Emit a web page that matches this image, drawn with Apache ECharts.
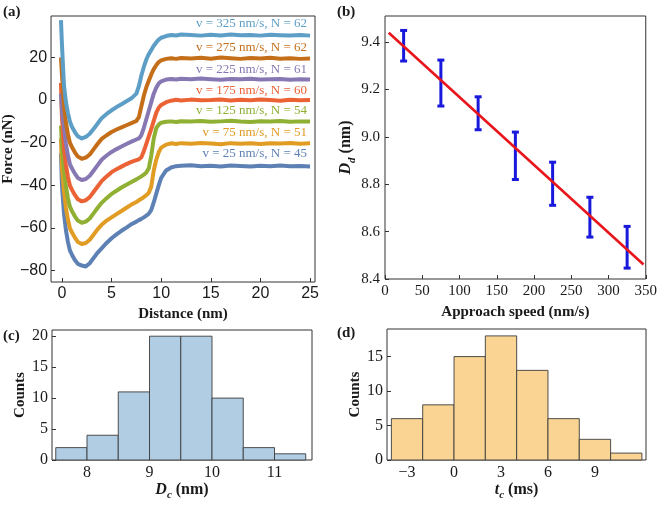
<!DOCTYPE html>
<html>
<head>
<meta charset="utf-8">
<script src="https://cdn.jsdelivr.net/npm/echarts@6/dist/echarts.min.js"></script>
<style>html,body{margin:0;padding:0;background:#fff}#c{width:660px;height:505px}</style>
</head>
<body>
<div id="c"></div>
<script>
// ---------- Panel (a): force curves ----------
const dist = [-0.1, 0, 0.2, 0.4, 0.6, 0.8, 1.0, 1.3, 1.6, 2.0, 2.4, 2.8, 3.2, 3.6, 4.0, 4.5, 5.0, 5.5, 6.0, 6.5, 7.0, 7.5, 7.75, 8.0, 8.25, 8.5, 8.75, 9.0, 9.25, 9.5, 9.75, 10.0, 10.5, 11, 11.5, 12, 13, 14, 15, 16, 17, 18, 19, 20, 21, 22, 23, 24, 25];
const force25 = [-25, -40, -53, -61, -66.5, -70.5, -72.5, -75, -76.8, -77.6, -78, -76.5, -74, -71.5, -69.5, -67, -64.8, -63, -61.3, -59.8, -58.2, -57, -56.3, -55.7, -55, -54.2, -53.3, -51.5, -48, -44, -40, -36.5, -33, -31.6, -31, -30.8, -30.6, -31, -30.8, -31.1, -30.7, -30.9, -31.2, -30.8, -31, -30.7, -31, -30.9, -31.1];
const force75 = [-18, -32, -42.5, -50.5, -56, -60, -62, -64.5, -66.5, -67.5, -67, -65.5, -63, -60.5, -58.5, -56.5, -55, -53.5, -52, -50.5, -49, -47.8, -47, -46.3, -45.5, -44.6, -43.5, -40.5, -33, -28, -24.5, -22.3, -20.9, -20.3, -20.6, -20.2, -20.5, -20.1, -20.4, -20.7, -20.2, -20.5, -20.3, -20.6, -20.2, -20.4, -20.1, -20.5, -20.3];
const force125 = [-12, -22, -32.5, -40.5, -46, -50, -52, -54.5, -56.5, -57.5, -57, -55.5, -53, -50.5, -48.2, -46, -44, -42.5, -41, -39.7, -38.4, -37.2, -36.5, -35.8, -35, -34, -32, -26, -18, -13.2, -11.5, -10.6, -10.2, -10, -10.3, -9.9, -10.1, -9.8, -10.2, -10, -9.7, -10.1, -10.3, -9.9, -10.1, -9.8, -10.2, -10, -10.1];
const force175 = [8, -8, -22.5, -30.5, -36, -40, -42, -44.5, -46.5, -47.5, -47, -45.5, -43, -40.5, -38, -35.8, -33.8, -32.4, -31.2, -30, -29, -28.2, -27.8, -26.8, -24, -20.5, -17, -13.5, -9.8, -6, -3.6, -2.3, -1, -0.3, 0.1, -0.2, 0.2, -0.1, 0, 0.3, -0.2, 0.1, -0.1, 0.2, 0, -0.3, 0.1, -0.1, 0];
const force225 = [3, -5, -12.5, -20.5, -26, -30, -32, -34.5, -36.5, -37.5, -37, -35.5, -33, -30.5, -28, -26, -24.3, -23, -21.8, -20.6, -19.5, -18.5, -18, -16.5, -13, -9, -5, -1, 3, 5.8, 7.8, 8.8, 9.6, 9.9, 9.6, 10, 9.7, 10.1, 9.8, 9.5, 9.9, 9.7, 10, 9.6, 9.8, 9.9, 9.5, 9.8, 9.6];
const force275 = [20, 12, -2.5, -10.5, -16, -20, -22, -24.5, -26.5, -27.5, -27, -25.5, -23, -20.5, -18.2, -16.5, -15, -13.8, -12.8, -11.8, -10.8, -9.8, -8, -3, 2, 6, 9, 12, 14.5, 16.3, 17.8, 18.6, 19.3, 19.6, 19.3, 19.7, 19.5, 19.8, 19.4, 19.9, 19.6, 19.3, 19.7, 19.5, 19.8, 19.4, 19.6, 19.3, 19.5];
const force325 = [37.5, 26, 7, -1, -6, -10, -12.5, -15, -17, -18, -17.3, -15.8, -13.5, -11, -8.5, -6.5, -4.8, -3.3, -2, -0.6, 0.8, 3, 6.5, 11.5, 15.5, 19, 21.5, 23.5, 25.5, 27, 28.3, 29.2, 30, 30.5, 30.3, 30.7, 30.5, 30.2, 30.6, 30.3, 30.7, 30.4, 30.5, 30.2, 30.6, 30.4, 30.3, 30.5, 30.2];
const speeds = [25, 75, 125, 175, 225, 275, 325];
const curveCounts = [45, 51, 54, 60, 61, 62, 62];
const forces = [force25, force75, force125, force175, force225, force275, force325];
const curveColors = ['#5E81B5', '#E19C24', '#8FB032', '#EB6235', '#8778B3', '#C56E1A', '#5D9EC7'];
const aXTicks = [0, 5, 10, 15, 20, 25];
const aYTicks = [-80, -60, -40, -20, 0, 20];

// ---------- Panel (b): Dd vs approach speed ----------
const ddLow  = [9.320, 9.130, 9.030, 8.820, 8.711, 8.577, 8.446];
const ddHigh = [9.449, 9.324, 9.169, 9.020, 8.893, 8.745, 8.622];
const fitX = [5, 347];
const fitY = [9.439, 8.461];
const bXTicks = [0, 50, 100, 150, 200, 250, 300, 350];
const bYTicks = [8.4, 8.6, 8.8, 9.0, 9.2, 9.4];

// ---------- Panel (c): Dc histogram ----------
const dcBinStart = [7.5, 8.0, 8.5, 9.0, 9.5, 10.0, 10.5, 11.0];
const dcBinWidth = 0.5;
const dcCounts = [2, 4, 11, 20, 20, 10, 2, 1];
const cXTicks = [8, 9, 10, 11];
const cYTicks = [0, 5, 10, 15, 20];

// ---------- Panel (d): tc histogram ----------
const tcBinStart = [-4, -2, 0, 2, 4, 6, 8, 10];
const tcBinWidth = 2;
const tcCounts = [6, 8, 15, 18, 13, 6, 3, 1];
const dXTicks = [-3, 0, 3, 6, 9];
const dYTicks = [0, 5, 10, 15];

const SERIF = '"Liberation Serif", "DejaVu Serif", serif';
const SANS = '"Liberation Sans", Arial, sans-serif';
const TXT = '#1a1a1a';
const minus = v => (v < 0 ? '\u2212' + Math.abs(v) : String(v));

function axisCommon(ticks, font, size, margin, fmt) {
  return {
    axisLine: { show: false, onZero: false },
    splitLine: { show: false },
    axisTick: { show: true, inside: true, length: 4, customValues: ticks, lineStyle: { color: '#333', width: 1 } },
    axisLabel: { customValues: ticks, fontFamily: font, fontSize: size, color: TXT, margin: margin, formatter: fmt || (v => minus(v)) }
  };
}

const chart = echarts.init(document.getElementById('c'), null, { renderer: 'canvas' });

const gridStyle = { show: true, borderColor: '#333', borderWidth: 1, backgroundColor: 'transparent' };

const series = [];
forces.forEach((f, i) => {
  series.push({
    type: 'line', xAxisIndex: 0, yAxisIndex: 0,
    data: dist.map((d, k) => [d, f[k]]),
    showSymbol: false, symbol: 'none',
    lineStyle: { color: curveColors[i], width: 4, join: 'round' },
    itemStyle: { color: curveColors[i] },
    silent: true, animation: false, z: 2 + i
  });
});

// error bars
series.push({
  type: 'custom', xAxisIndex: 1, yAxisIndex: 1,
  data: speeds.map((s, i) => [s, ddLow[i], ddHigh[i]]),
  renderItem: function (params, api) {
    const x = api.value(0);
    const lo = api.coord([x, api.value(1)]);
    const hi = api.coord([x, api.value(2)]);
    const w = 3.5;
    const st = { stroke: '#1919DC', lineWidth: 3 };
    return {
      type: 'group', children: [
        { type: 'line', shape: { x1: lo[0], y1: lo[1], x2: hi[0], y2: hi[1] }, style: st },
        { type: 'line', shape: { x1: lo[0] - w, y1: lo[1], x2: lo[0] + w, y2: lo[1] }, style: st },
        { type: 'line', shape: { x1: hi[0] - w, y1: hi[1], x2: hi[0] + w, y2: hi[1] }, style: st }
      ]
    };
  },
  animation: false, z: 3
});
series.push({
  type: 'line', xAxisIndex: 1, yAxisIndex: 1,
  data: fitX.map((x, i) => [x, fitY[i]]),
  symbol: 'none', lineStyle: { color: '#E8161C', width: 2.6 }, animation: false, z: 5
});

function histSeries(ax, starts, width, counts, fill) {
  return {
    type: 'custom', xAxisIndex: ax, yAxisIndex: ax,
    data: starts.map((s, i) => [s, s + width, counts[i]]),
    renderItem: function (params, api) {
      const p0 = api.coord([api.value(0), api.value(2)]);
      const p1 = api.coord([api.value(1), 0]);
      return {
        type: 'rect',
        shape: { x: p0[0], y: p0[1], width: p1[0] - p0[0], height: p1[1] - p0[1] },
        style: { fill: fill, stroke: '#3c3c3c', lineWidth: 0.9 }
      };
    },
    animation: false, z: 2
  };
}
series.push(histSeries(2, dcBinStart, dcBinWidth, dcCounts, '#B0CDE4'));
series.push(histSeries(3, tcBinStart, tcBinWidth, tcCounts, '#F9D493'));

const nameBold = { fontFamily: SERIF, fontWeight: 'bold', fontSize: 15, color: TXT };
const subRich = function (size) {
  return {
    i: { fontFamily: SERIF, fontStyle: 'italic', fontWeight: 'bold', fontSize: size, color: TXT, lineHeight: 18 },
    s: { fontFamily: SERIF, fontStyle: 'italic', fontWeight: 'bold', fontSize: 11, color: TXT, lineHeight: 22, verticalAlign: 'bottom' },
    b: { fontFamily: SERIF, fontWeight: 'bold', fontSize: size, color: TXT, lineHeight: 18 }
  };
};

const labels = speeds.map((s, i) => 'v = ' + s + ' nm/s, N = ' + curveCounts[i]);
const labelY = [154, 132.7, 110.5, 90.7, 69.3, 47.3, 24];
const graphics = labels.map((t, i) => ({
  type: 'text', x: 307, y: labelY[i], silent: true,
  style: { text: t, align: 'right', verticalAlign: 'middle', fill: curveColors[i], font: '13px ' + SERIF }
}));
[['(a)', 3, 12], ['(b)', 337, 12], ['(c)', 3, 336], ['(d)', 337, 333]].forEach(p => {
  graphics.push({ type: 'text', x: p[1], y: p[2], silent: true,
    style: { text: p[0], align: 'left', verticalAlign: 'middle', fill: TXT, font: 'bold 15px ' + SERIF } });
});

const option = {
  backgroundColor: '#fff',
  animation: false,
  grid: [
    Object.assign({ left: 49, top: 16, width: 266, height: 266 }, gridStyle),
    Object.assign({ left: 385, top: 16, width: 262, height: 263 }, gridStyle),
    Object.assign({ left: 52, top: 330, width: 260, height: 130 }, gridStyle),
    Object.assign({ left: 387, top: 329, width: 259, height: 131 }, gridStyle)
  ],
  xAxis: [
    Object.assign({ type: 'value', gridIndex: 0, min: -1.1, max: 25.5,
      name: 'Distance (nm)', nameLocation: 'middle', nameGap: 24, nameTextStyle: nameBold },
      axisCommon(aXTicks, SANS, 16, 4)),
    Object.assign({ type: 'value', gridIndex: 1, min: 0, max: 350,
      name: 'Approach speed (nm/s)', nameLocation: 'middle', nameGap: 26, nameTextStyle: nameBold },
      axisCommon(bXTicks, SERIF, 15, 5)),
    Object.assign({ type: 'value', gridIndex: 2, min: 7.44, max: 11.6,
      name: '{i|D}{s|c}{b| (nm)}', nameLocation: 'middle', nameGap: 19,
      nameTextStyle: { rich: subRich(16) } },
      axisCommon(cXTicks, SERIF, 16, 5)),
    Object.assign({ type: 'value', gridIndex: 3, min: -4.28, max: 12.26,
      name: '{i|t}{s|c}{b| (ms)}', nameLocation: 'middle', nameGap: 19,
      nameTextStyle: { rich: subRich(16) } },
      axisCommon(dXTicks, SERIF, 16, 5))
  ],
  yAxis: [
    Object.assign({ type: 'value', gridIndex: 0, min: -85.3, max: 39.4,
      name: 'Force (nN)', nameLocation: 'middle', nameGap: 29, nameRotate: 90, nameTextStyle: nameBold },
      axisCommon(aYTicks, SANS, 16, 4)),
    Object.assign({ type: 'value', gridIndex: 1, min: 8.4, max: 9.51,
      name: '{i|D}{s|d}{b| (nm)}', nameLocation: 'middle', nameGap: 27, nameRotate: 90,
      nameTextStyle: { rich: subRich(16) } },
      axisCommon(bYTicks, SERIF, 15, 5, v => v.toFixed(1))),
    Object.assign({ type: 'value', gridIndex: 2, min: 0, max: 21,
      name: 'Counts', nameLocation: 'middle', nameGap: 24, nameRotate: 90, nameTextStyle: nameBold },
      axisCommon(cYTicks, SERIF, 16, 4)),
    Object.assign({ type: 'value', gridIndex: 3, min: 0, max: 19,
      name: 'Counts', nameLocation: 'middle', nameGap: 24, nameRotate: 90, nameTextStyle: nameBold },
      axisCommon(dYTicks, SERIF, 16, 4))
  ],
  series: series,
  graphic: graphics
};
chart.setOption(option);
</script>
</body>
</html>
